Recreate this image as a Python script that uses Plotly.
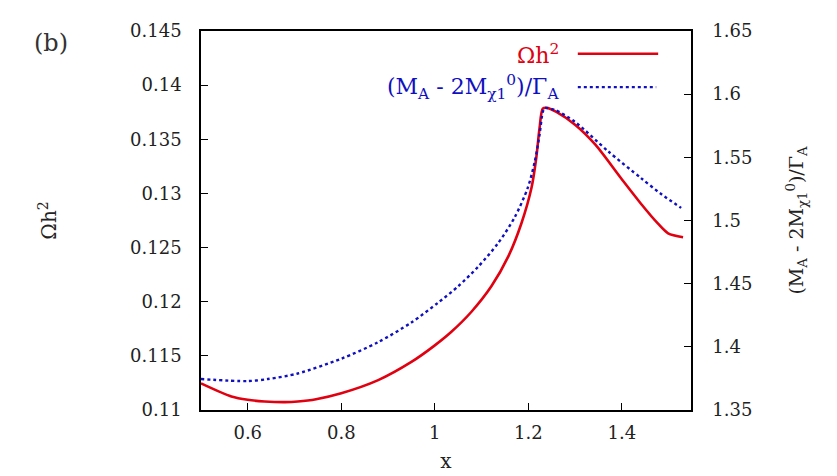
import plotly.graph_objects as go

# Omega h^2 (left axis)
x_omega = [0.5, 0.565, 0.6, 0.636, 0.68, 0.707, 0.746, 0.8, 0.879, 0.950, 0.998, 1.035, 1.078,
           1.121, 1.157, 1.185, 1.207, 1.217, 1.224, 1.231, 1.239, 1.26, 1.300, 1.343, 1.398,
           1.441, 1.477, 1.499, 1.531]
omega_h2 = [0.11246, 0.11125, 0.11094, 0.11079, 0.11073, 0.11079, 0.11100, 0.11155, 0.11276,
            0.11444, 0.1159, 0.1172, 0.11905, 0.12142, 0.12416, 0.1272, 0.13054, 0.13327, 0.136,
            0.13783, 0.1379, 0.13753, 0.13634, 0.13452, 0.13142, 0.12905, 0.12723, 0.12632,
            0.12595]

# (M_A - 2M_chi)/Gamma_A (right axis)
x_ratio = [0.5, 0.6, 0.643, 0.707, 0.8, 0.879, 0.950, 1.007, 1.050, 1.093, 1.135, 1.171, 1.199,
           1.214, 1.224, 1.231, 1.235, 1.257, 1.300, 1.371, 1.441, 1.484, 1.527]
ratio = [1.3745, 1.3729, 1.3745, 1.3789, 1.3906, 1.4037, 1.4193, 1.4349, 1.4479, 1.4635,
         1.4818, 1.5026, 1.526, 1.5469, 1.5677, 1.5859, 1.589, 1.5875, 1.578, 1.5547, 1.5336,
         1.521, 1.510]

x_ticks = [0.6, 0.8, 1.0, 1.2, 1.4]
x_ticklabels = ["0.6", "0.8", "1", "1.2", "1.4"]
y1_ticks = [0.11, 0.115, 0.12, 0.125, 0.13, 0.135, 0.14, 0.145]
y1_ticklabels = ["0.11", "0.115", "0.12", "0.125", "0.13", "0.135", "0.14", "0.145"]
y2_ticks = [1.35, 1.4, 1.45, 1.5, 1.55, 1.6, 1.65]
y2_ticklabels = ["1.35", "1.4", "1.45", "1.5", "1.55", "1.6", "1.65"]

RED = "#e00010"
BLUE = "#1010c0"
FONT = "DejaVu Serif"
ratio_label = "(M<sub>A</sub> - 2M<sub>χ1</sub><sup>0</sup>)/Γ<sub>A</sub>"

fig = go.Figure()
fig.add_trace(go.Scatter(x=x_omega, y=omega_h2, mode="lines", yaxis="y",
                         line=dict(color=RED, width=2.6, shape="spline", smoothing=0.8),
                         showlegend=False))
fig.add_trace(go.Scatter(x=x_ratio, y=ratio, mode="lines", yaxis="y2",
                         line=dict(color=BLUE, width=2.4, dash="dot", shape="spline", smoothing=0.8),
                         showlegend=False))

axis_common = dict(showline=True, linecolor="black", linewidth=1.5, showgrid=False,
                   zeroline=False, ticks="inside", ticklen=7, tickwidth=1, tickcolor="black",
                   tickfont=dict(family=FONT, size=18, color="#222"))

fig.update_layout(
    width=837, height=476,
    margin=dict(l=193, r=154, t=18, b=74),
    paper_bgcolor="white", plot_bgcolor="white",
    font=dict(family=FONT, color="#222"),
    xaxis=dict(range=[0.5, 1.548], tickvals=x_ticks, ticktext=x_ticklabels, mirror=True,
               ticklabelstandoff=6,
               title=dict(text="x", font=dict(family=FONT, size=20), standoff=12),
               **axis_common),
    yaxis=dict(range=[0.11, 0.145], tickvals=y1_ticks, ticktext=y1_ticklabels,
               ticklabelstandoff=14,
               title=dict(text="Ωh<sup>2</sup>", font=dict(family=FONT, size=20), standoff=68),
               **axis_common),
    yaxis2=dict(range=[1.35, 1.65], tickvals=y2_ticks, ticktext=y2_ticklabels,
                overlaying="y", side="right", ticklabelstandoff=16,
                title=dict(text=ratio_label, font=dict(family=FONT, size=19), standoff=38),
                **axis_common),
)

# legend (text left, sample right, as in the reference)
fig.add_annotation(xref="paper", yref="paper", x=0.735, y=0.940, xanchor="right", yanchor="middle",
                   text="Ωh<sup>2</sup>", showarrow=False, font=dict(family=FONT, size=22, color=RED))
fig.add_annotation(xref="paper", yref="paper", x=0.735, y=0.852, xanchor="right", yanchor="middle",
                   text=ratio_label, showarrow=False, font=dict(family=FONT, size=22, color=BLUE))
fig.add_shape(type="line", xref="paper", yref="paper", x0=0.769, x1=0.933, y0=0.940, y1=0.940,
              line=dict(color=RED, width=2.6))
fig.add_shape(type="line", xref="paper", yref="paper", x0=0.769, x1=0.929, y0=0.852, y1=0.852,
              line=dict(color=BLUE, width=2.4, dash="dot"))

fig.add_annotation(xref="paper", yref="paper", x=-0.345, y=1.01, xanchor="left", yanchor="top",
                   text="(b)", showarrow=False, font=dict(family=FONT, size=24, color="#333"))

fig.write_html("out.html")
